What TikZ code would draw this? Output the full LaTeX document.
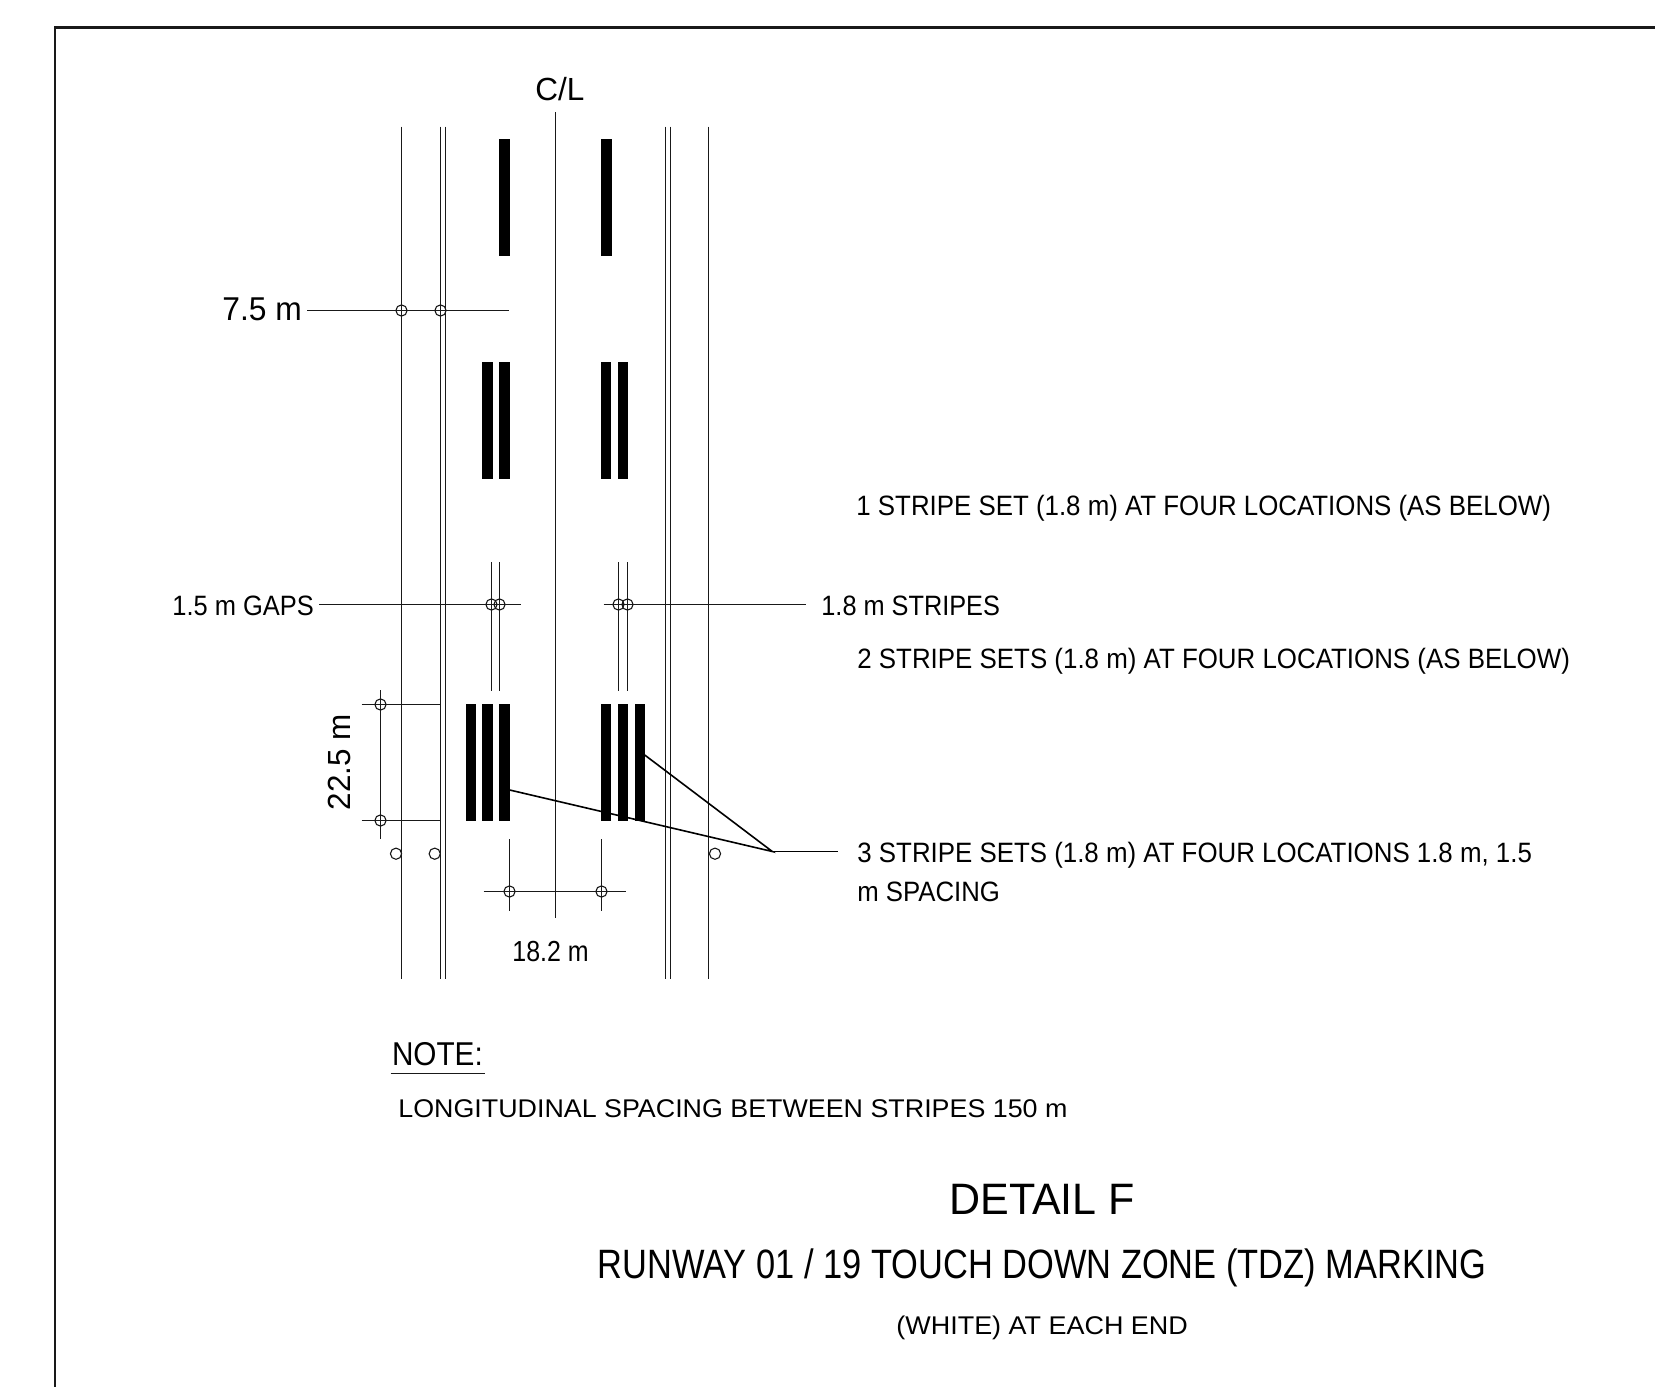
\documentclass[tikz,border=0pt]{standalone}
\usepackage{fontspec}
\usepackage{graphicx}
\setmainfont{Liberation Sans}
% \lbl{font size pt}{width px}{text}: real text set to the reference's measured width
\newcommand{\lbl}[3]{\resizebox{\dimexpr #2pt/2\relax}{\height}{\fontsize{#1}{#1}\selectfont #3}}
\tikzset{
  x=0.5pt,y=-0.5pt,
  thinln/.style={line width=0.6pt,draw=black!90},
  leader/.style={line width=0.8pt,draw=black},
  dimc/.style={circle,draw=black!90,line width=0.55pt,minimum size=5.6pt,inner sep=0pt},
  opnc/.style={circle,draw=black!90,fill=white,line width=0.55pt,minimum size=5.6pt,inner sep=0pt},
  stripe/.style={fill=black,draw=none},
  txt/.style={inner sep=0pt,anchor=base west,text=black},
}
\begin{document}
\begin{tikzpicture}
\useasboundingbox (0,0) rectangle (1655,1387);
\fill[white] (0,0) rectangle (1655,1387);
% frame
\draw[line width=1.3pt,black!90] (55,1387) -- (55,27.5) -- (1655,27.5);

% end points of the long lines
\foreach \n/\x in {ra/401.5,rb/440.5,rc/445.5,rd/665.5,re/670.5,rf/708.5}{
  \coordinate (\n t) at (\x,126.5);
  \coordinate (\n b) at (\x,978.5);
  \draw[thinln] (\n t) -- (\n b);
}
\coordinate (clt) at (555.5,112);
\coordinate (clb) at (555.5,917.5);
\draw[thinln] (clt) -- (clb);

% stripes
\foreach \a/\b in {499/510,600.6/611.6}{
  \fill[stripe] (\a,139) rectangle (\b,255.5);
}
\foreach \a/\b in {482/493,499/510,600.6/611.3,617.7/628.3}{
  \fill[stripe] (\a,362) rectangle (\b,478.5);
}
\foreach \a/\b in {465.7/476,482/492.7,499/509.7,600.7/611.3,617.7/628.3,634.7/644.7}{
  \fill[stripe] (\a,704) rectangle (\b,820.7);
}

% texts
\node[txt] (cl) at (535,100) {\lbl{16}{49}{C/L}};
\node[txt] (d75) at (222,320.7) {\lbl{16.5}{79.5}{7.5 m}};
\node[txt] (gaps) at (172,615) {\lbl{14}{141.5}{1.5 m GAPS}};
\node[txt] (str) at (821,615) {\lbl{14}{178.6}{1.8 m STRIPES}};
\node[txt] (s1) at (856,515.5) {\lbl{14}{694.5}{1 STRIPE SET (1.8 m) AT FOUR LOCATIONS (AS BELOW)}};
\node[txt] (s2) at (857,668.5) {\lbl{14}{712.5}{2 STRIPE SETS (1.8 m) AT FOUR LOCATIONS (AS BELOW)}};
\node[txt] (s3) at (857,862) {\lbl{14}{674.5}{3 STRIPE SETS (1.8 m) AT FOUR LOCATIONS 1.8 m, 1.5}};
\node[txt] (s3b) at (857,901) {\lbl{14}{142.6}{m SPACING}};
\node[txt,rotate=90] (d225) at (350,810.6) {\lbl{16}{96}{22.5 m}};
\node[txt] (d182) at (512,961.7) {\lbl{14.5}{76.3}{18.2 m}};
\node[txt] (note) at (391.6,1065.5) {\lbl{16.5}{90.8}{NOTE:}};
\node[txt] (long) at (398,1117) {\lbl{12.8}{669}{LONGITUDINAL SPACING BETWEEN STRIPES 150 m}};
\node[txt] (det) at (949,1214) {\lbl{22}{185.6}{DETAIL F}};
\node[txt] (rwy) at (597.4,1278) {\lbl{20.5}{888.6}{RUNWAY 01 / 19 TOUCH DOWN ZONE (TDZ) MARKING}};
\node[txt] (wht) at (896,1334.7) {\lbl{12.8}{291.5}{(WHITE) AT EACH END}};
\coordinate (nl) at (390.5,1073.5);
\coordinate (nr) at (484.5,1073.5);
\draw[thinln,line width=0.7pt] (nl) -- (nr);

% 7.5 m dimension
\node[dimc] (c75a) at (401.5,310.5) {};
\node[dimc] (c75b) at (440.5,310.5) {};
\coordinate (a75l) at (307,310.5);
\coordinate (a75r) at (509,310.5);
\draw[thinln] (a75l) -- (a75r);
\draw[thinln] (c75a.north) -- (c75a.south) (c75b.north) -- (c75b.south);

% 1.5 m gaps
\node[dimc] (cga) at (491.5,604.5) {};
\node[dimc] (cgb) at (499.5,604.5) {};
\coordinate (gl) at (319,604.5);
\coordinate (gr) at (520.5,604.5);
\draw[thinln] (gl) -- (gr);
\foreach \n/\x in {gta/491.5,gtb/499.5,gtc/618.5,gtd/627.5}{
  \coordinate (\n1) at (\x,562);
  \coordinate (\n2) at (\x,691);
  \draw[thinln] (\n1) -- (\n2);
}

% 1.8 m stripes
\node[dimc] (csa) at (618.5,604.5) {};
\node[dimc] (csb) at (627.5,604.5) {};
\coordinate (sl) at (603.5,604.5);
\coordinate (sr) at (805.7,604.5);
\draw[thinln] (sl) -- (sr);

% 22.5 m dimension
\coordinate (vt) at (380.5,690);
\coordinate (vb) at (380.5,839);
\draw[thinln] (vt) -- (vb);
\node[dimc] (cva) at (380.5,704.5) {};
\node[dimc] (cvb) at (380.5,820.5) {};
\coordinate (h1l) at (361.7,704.5);
\coordinate (h1r) at (440,704.5);
\coordinate (h2l) at (361.7,820.5);
\coordinate (h2r) at (440,820.5);
\draw[thinln] (h1l) -- (h1r);
\draw[thinln] (h2l) -- (h2r);

% open circles
\node[opnc] (oa) at (396,853.7) {};
\node[opnc] (ob) at (434.7,853.7) {};
\node[opnc] (oc) at (715,853.7) {};

% 18.2 m dimension
\coordinate (bl) at (483.7,891.5);
\coordinate (br) at (626,891.5);
\draw[thinln] (bl) -- (br);
\node[dimc] (cba) at (509.5,891.5) {};
\node[dimc] (cbb) at (601.5,891.5) {};
\coordinate (t1a) at (509.5,839);
\coordinate (t1b) at (509.5,911);
\coordinate (t2a) at (601.5,839);
\coordinate (t2b) at (601.5,911);
\draw[thinln] (t1a) -- (t1b);
\draw[thinln] (t2a) -- (t2b);

% leaders to the 3-stripe sets
\coordinate (lj) at (772.3,851.5);
\coordinate (le) at (837.7,851.5);
\coordinate (ll) at (509.7,790);
\coordinate (lr) at (644.7,755);
\draw[leader] (ll) -- (lj) -- (lr);
\draw[leader] (lj) -- (le);
\end{tikzpicture}
\end{document}
